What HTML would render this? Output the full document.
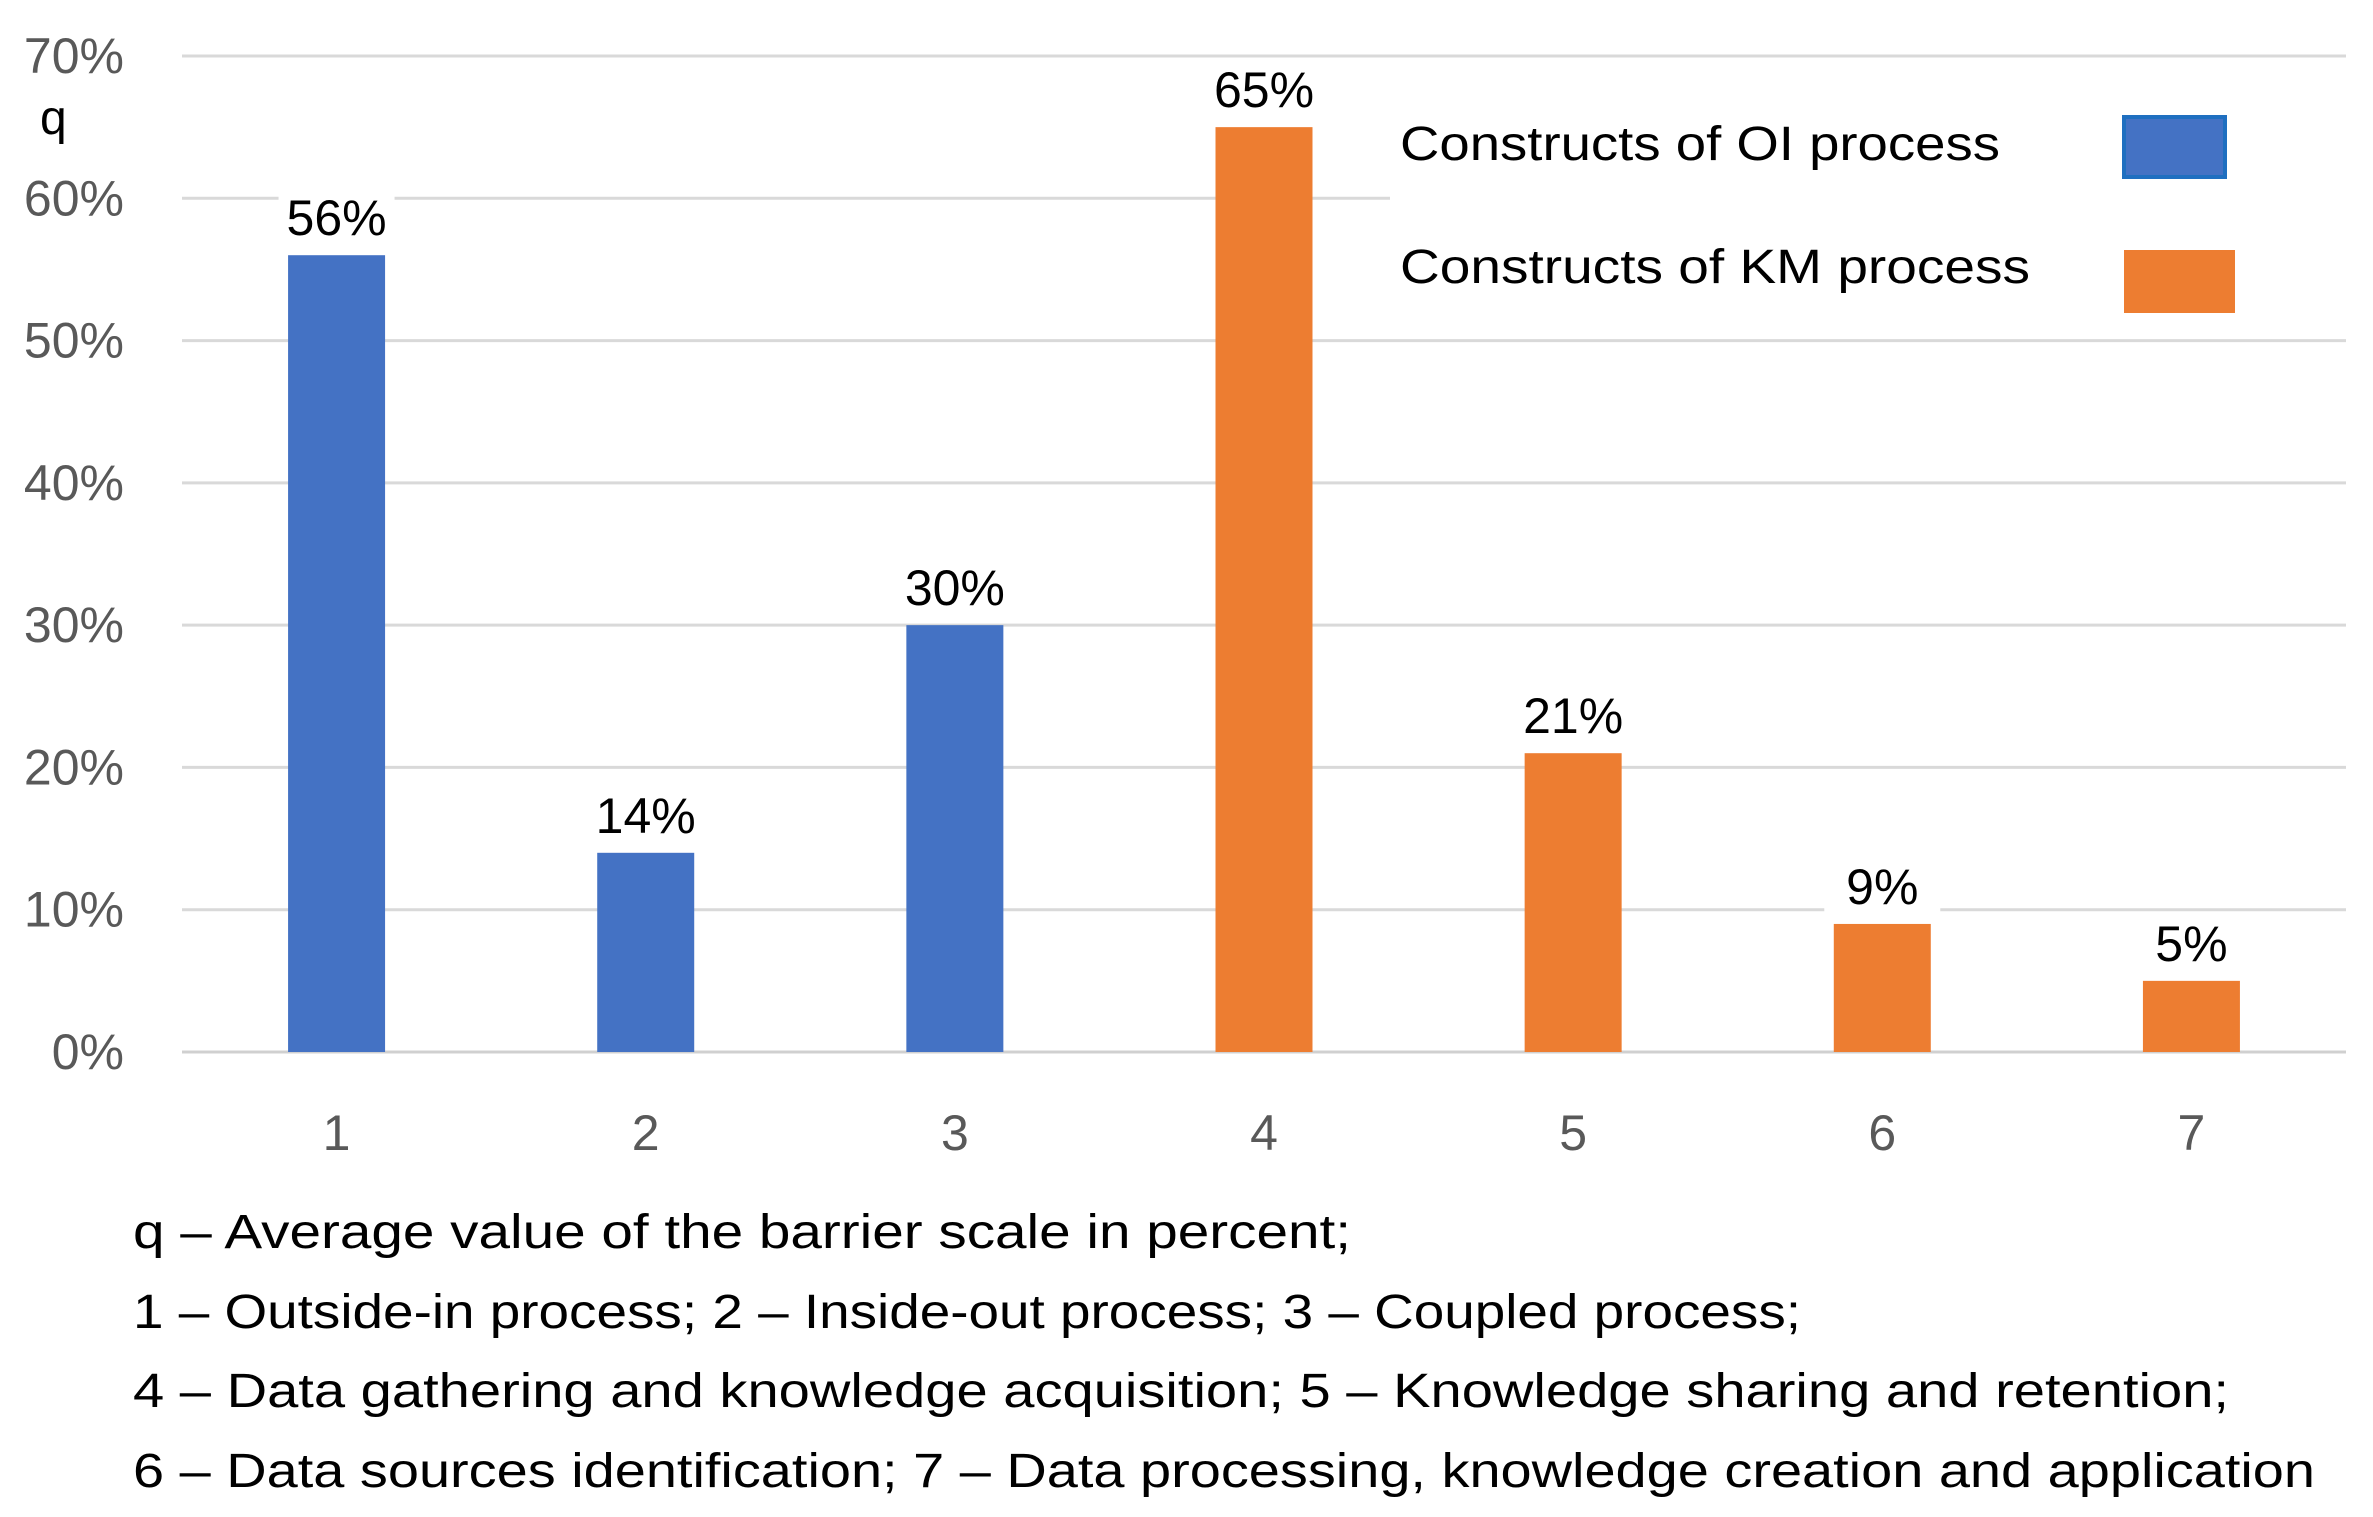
<!DOCTYPE html>
<html><head><meta charset="utf-8"><style>
html,body{margin:0;padding:0;background:#fff;}
svg{display:block;font-family:"Liberation Sans",sans-serif;}
</style></head><body>
<svg id="chart" width="2373" height="1517" viewBox="0 0 2373 1517">
<g id="grid"></g>
<g id="ticks"></g>
<g id="bars"></g>
<g id="xlabels"></g>
<text x="40" y="134" font-size="48" fill="#000">q</text>
<g>
<rect x="1390" y="62" width="960" height="270" fill="#fff"/>
<g>
<text x="1400" y="160" font-size="48" textLength="600" lengthAdjust="spacingAndGlyphs" fill="#000">Constructs of OI process</text>
<rect x="2124" y="117" width="101" height="60" fill="#4472C4" stroke="#1f6fc0" stroke-width="4"/>
</g>
<g>
<text x="1400" y="283" font-size="48" textLength="630" lengthAdjust="spacingAndGlyphs" fill="#000">Constructs of KM process</text>
<rect x="2124" y="250" width="111" height="63" fill="#ED7D31"/>
</g>
</g>
<g font-size="48" fill="#000">
<text x="133" y="1248" textLength="1218" lengthAdjust="spacingAndGlyphs">q  – Average value of the barrier scale in percent;</text>
<text x="133" y="1328" textLength="1668" lengthAdjust="spacingAndGlyphs">1 – Outside-in process; 2 – Inside-out process; 3 – Coupled process;</text>
<text x="133" y="1407" textLength="2096" lengthAdjust="spacingAndGlyphs">4 – Data gathering and knowledge acquisition; 5 – Knowledge sharing and retention;</text>
<text x="133" y="1487" textLength="2182" lengthAdjust="spacingAndGlyphs">6 – Data sources identification; 7 – Data processing, knowledge creation and application</text>
</g>
</svg>
<script>
const categories = ["1","2","3","4","5","6","7"];
const values = [56, 14, 30, 65, 21, 9, 5];
const groups = ["oi","oi","oi","km","km","km","km"];
const yTicks = [0,10,20,30,40,50,60,70];
const yTickLabels = ["0%","10%","20%","30%","40%","50%","60%","70%"];

const NS="http://www.w3.org/2000/svg";
const L=182, R=2346, T=56, B=1052, yMax=70;
const y=v=>B-(v/yMax)*(B-T);
const band=(R-L)/categories.length;
const xc=i=>L+band*(i+0.5);
const bw=97;
const colors={oi:"#4472C4",km:"#ED7D31"};
function mk(tag,attrs,parent,txt){const e=document.createElementNS(NS,tag);for(const k in attrs)e.setAttribute(k,attrs[k]);if(txt!==undefined)e.textContent=txt;parent.appendChild(e);return e;}
const grid=document.getElementById('grid'),ticks=document.getElementById('ticks'),bars=document.getElementById('bars'),xl=document.getElementById('xlabels');
yTicks.forEach((t,i)=>{
  const ln=mk('line',{x1:L,x2:R,y1:y(t),y2:y(t),stroke:t===0?'#d0d0d0':'#d9d9d9','stroke-width':3},grid);
  
  
  const tx=mk('text',{x:124,y:y(t)+17,'font-size':50,fill:'#595959','text-anchor':'end'},ticks,yTickLabels[i]);
  
  
});
categories.forEach((c,i)=>{
  const r=mk('rect',{x:xc(i)-bw/2,y:y(values[i]),width:bw,height:B-y(values[i]),fill:colors[groups[i]]},bars);
  
  
  const bg=mk('rect',{x:xc(i)-58,y:y(values[i])-62,width:116,height:52,fill:'#fff'},bars);
  
  
  const lb=mk('text',{x:xc(i),y:y(values[i])-20,'font-size':50,fill:'#000','text-anchor':'middle'},bars,values[i]+'%');
  
  
  const xt=mk('text',{x:xc(i),y:1150,'font-size':50,fill:'#595959','text-anchor':'middle'},xl,c);
  
  
});
</script>
</body></html>
